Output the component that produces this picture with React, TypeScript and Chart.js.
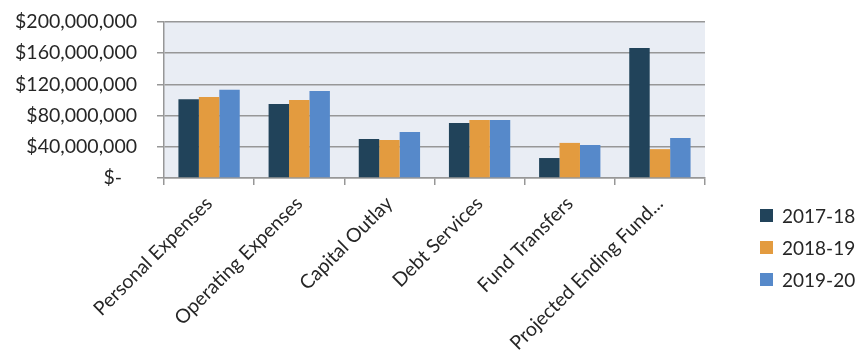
import React, { useEffect, useRef } from "react";
import { Chart, registerables } from "chart.js";

Chart.register(...registerables);

const categories = [
  "Personal Expenses",
  "Operating Expenses",
  "Capital Outlay",
  "Debt Services",
  "Fund Transfers",
  "Projected Ending Fund...",
];
const seriesNames = ["2017-18", "2018-19", "2019-20"];
const fy2017_18 = [101000000, 95000000, 50000000, 70500000, 25600000, 166700000];
const fy2018_19 = [104000000, 100000000, 48700000, 74400000, 45000000, 37000000];
const fy2019_20 = [113000000, 111500000, 59000000, 74400000, 42300000, 51300000];
const seriesColors = ["#21435A", "#E39B3F", "#5689CA"];
const yTickValues = [0, 40000000, 80000000, 120000000, 160000000, 200000000];
const yTickLabels = ["$-   ", "$40,000,000", "$80,000,000", "$120,000,000", "$160,000,000", "$200,000,000"];

const FONT = "Lato, 'Open Sans', sans-serif";
const TEXT = "#262626";
const GRID = "#979797";

const plotBg = {
  id: "plotBg",
  beforeDraw(chart: any) {
    const { ctx, chartArea } = chart;
    if (!chartArea) return;
    ctx.save();
    ctx.fillStyle = "#E9EDF4";
    ctx.fillRect(chartArea.left, chartArea.top, chartArea.right - chartArea.left, chartArea.bottom - chartArea.top);
    ctx.restore();
  },
};

export default function App() {
  const ref = useRef<HTMLCanvasElement | null>(null);
  const allSeries = [fy2017_18, fy2018_19, fy2019_20];

  useEffect(() => {
    if (!ref.current) return;
    const chart = new Chart(ref.current, {
      type: "bar",
      data: {
        labels: categories,
        datasets: seriesNames.map((name, i) => ({
          label: name,
          data: allSeries[i],
          backgroundColor: seriesColors[i],
          borderWidth: 0,
          categoryPercentage: 0.68,
          barPercentage: 1.0,
        })),
      },
      options: {
        animation: false,
        responsive: true,
        maintainAspectRatio: false,
        layout: { padding: { top: 0, right: 145, left: 0, bottom: 0 } },
        plugins: {
          legend: { display: false },
          tooltip: { enabled: false },
        },
        scales: {
          x: {
            offset: true,
            afterFit(scale: any) {
              scale.paddingLeft = 0;
              scale.paddingRight = 0;
              scale.height = 173;
            },
            grid: {
              display: true,
              offset: true,
              drawOnChartArea: false,
              drawTicks: true,
              tickLength: 7,
              color: GRID,
              lineWidth: 1.5,
            },
            border: { display: true, color: GRID, width: 1.5 },
            ticks: {
              color: TEXT,
              font: { family: FONT, size: 19.5 },
              minRotation: 45,
              maxRotation: 45,
              autoSkip: false,
              padding: 7,
            },
          },
          y: {
            min: 0,
            max: 200000000,
            afterBuildTicks(scale: any) {
              scale.ticks = yTickValues.map((v) => ({ value: v }));
            },
            afterFit(scale: any) {
              scale.paddingTop = 14;
              scale.paddingBottom = 0;
              scale.width = 156;
            },
            grid: {
              color: GRID,
              lineWidth: 1.5,
              drawTicks: true,
              tickLength: 7,
            },
            border: { display: true, color: GRID, width: 1.5 },
            ticks: {
              color: TEXT,
              font: { family: FONT, size: 19.5 },
              padding: 20,
              callback: (value: any) => {
                const idx = yTickValues.indexOf(Number(value));
                return idx >= 0 ? yTickLabels[idx] : "";
              },
            },
          },
        },
      },
      plugins: [plotBg],
    });
    return () => chart.destroy();
  }, []);

  return (
    <div
      style={{
        position: "fixed",
        left: 0,
        top: 0,
        width: 858,
        height: 351,
        overflow: "hidden",
        background: "#ffffff",
      }}
    >
      <div style={{ position: "absolute", left: 8, top: 8, width: 842, height: 343 }}>
        <canvas ref={ref} />
      </div>
      <div
        style={{
          position: "absolute",
          left: 760,
          top: 199,
          fontFamily: FONT,
          fontSize: 19,
          color: TEXT,
          whiteSpace: "nowrap",
        }}
      >
        {seriesNames.map((name, i) => (
          <div key={name} style={{ display: "flex", alignItems: "center", height: 32 }}>
            <span
              style={{
                display: "inline-block",
                width: 13,
                height: 13,
                background: seriesColors[i],
                marginRight: 9,
              }}
            />
            <span>{name}</span>
          </div>
        ))}
      </div>
    </div>
  );
}
